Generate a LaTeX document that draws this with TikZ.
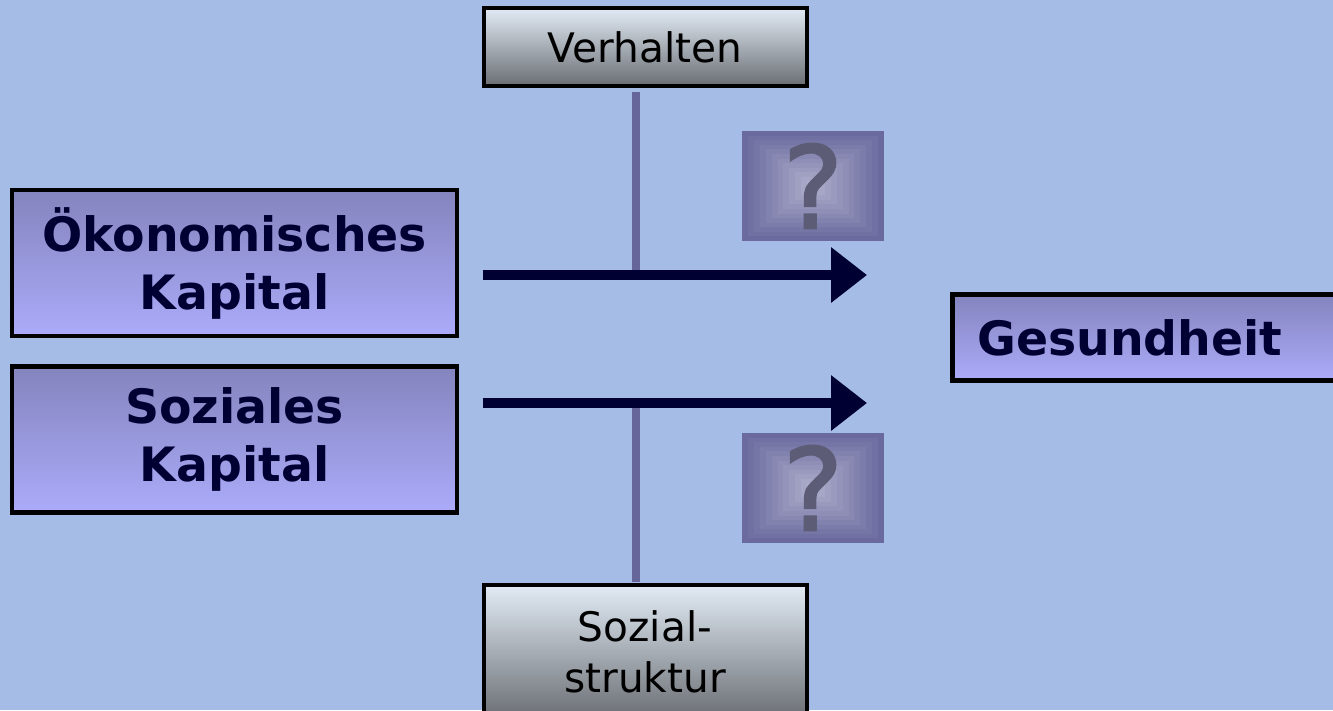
\documentclass[tikz,border=0pt]{standalone}
\usepackage{fontspec}
\setmainfont{DejaVu Sans}
\newfontfamily\askfont[FakeBold=1.6]{DejaVu Sans}
\usepackage{xcolor}
\usetikzlibrary{arrows.meta}

\definecolor{bgblue}{HTML}{A4BCE6}
\definecolor{navy}{HTML}{000033}
\definecolor{linkpurple}{HTML}{66669A}
\definecolor{captop}{HTML}{8484BE}
\definecolor{capbottom}{HTML}{ABABFA}
\definecolor{greytop}{HTML}{E2EBF5}
\definecolor{greymid}{HTML}{B4BBC2}
\definecolor{greybottom}{HTML}{6A6E73}
\definecolor{askouter}{HTML}{6A6A9E}
\definecolor{askinner}{HTML}{ADADCC}
\definecolor{askmark}{HTML}{5C5C76}

\def\px{0.75pt}

\tikzset{
	capital/.style = {draw = black, line width = 3.5pt, top color = captop, bottom color = capbottom, text = navy, font = \fontsize{35.5}{43.5}\selectfont\bfseries, align = center, inner sep = 0pt, minimum width = 445*\px, minimum height = 146*\px},
	factor/.style = {draw = black, line width = 3pt, top color = greytop, middle color = greymid, bottom color = greybottom, font = \fontsize{30.5}{38.25}\selectfont, align = center, inner sep = 0pt, minimum width = 323*\px},
	mainarrow/.style = {navy, line width = 7.5pt, -{Triangle[length = 27pt, width = 40pt]}},
	link/.style = {linkpurple, line width = 6pt},
	askmarkstyle/.style = {text = askmark, font = \fontsize{86}{86}\askfont, inner sep = 0pt},
}

\begin{document}
\begin{tikzpicture}[x = 0.75pt, y = -0.75pt]
		%background
		\useasboundingbox (0,0) rectangle (1333,710);
		\clip (0,0) rectangle (1333,710);
		\fill [bgblue] (0,0) rectangle (1333,710);
		
		%boxes
		\node [capital] (oekon) at (234.5,263) {Ökonomisches\\Kapital};
		\node [capital] (sozial) at (234.5,439.5) {Soziales\\Kapital};
		\node [capital, minimum width = 0pt, minimum height = 86*\px, text width = 370*\px, inner xsep = 25*\px, align = left, anchor = west] (gesund) at (950,337.5) {Gesundheit};
		
		\node [factor, minimum height = 78*\px] (verhalten) at (645,47) {Verhalten};
		\node [factor, minimum height = 134*\px] (struktur) at (645,652) {Sozial-\\struktur};
		
		%arrows
		\coordinate (a1s) at (483,275);
		\coordinate (a1e) at (867,275);
		\coordinate (a2s) at (483,403);
		\coordinate (a2e) at (867,403);
		
		\coordinate (j1) at (636,275);
		\coordinate (j2) at (636,403);
		
		\draw [link] ([yshift = -3pt] verhalten.south -| j1) -- (j1);
		\draw [link] (j2) -- ([yshift = 1pt] struktur.north -| j2);
		
		\draw [mainarrow] (a1s) -- (a1e);
		\draw [mainarrow] (a2s) -- (a2e);
		
		%question marks
		\coordinate (q1) at (813,186);
		\coordinate (q2) at (813,488);
		
		\foreach \q in {q1, q2} {
			\foreach \i in {0,...,11} {
				\pgfmathsetmacro\s{1-\i/12}
				\pgfmathtruncatemacro\c{100*\i/11}
				\fill [askinner!\c!askouter, shift = {(\q)}] (-71*\s,-55*\s) rectangle (71*\s,55*\s);
			}
		}
		
		\node [askmarkstyle] (ask1) at (q1) {?};
		\node [askmarkstyle] (ask2) at (q2) {?};
	\end{tikzpicture}
\end{document}
